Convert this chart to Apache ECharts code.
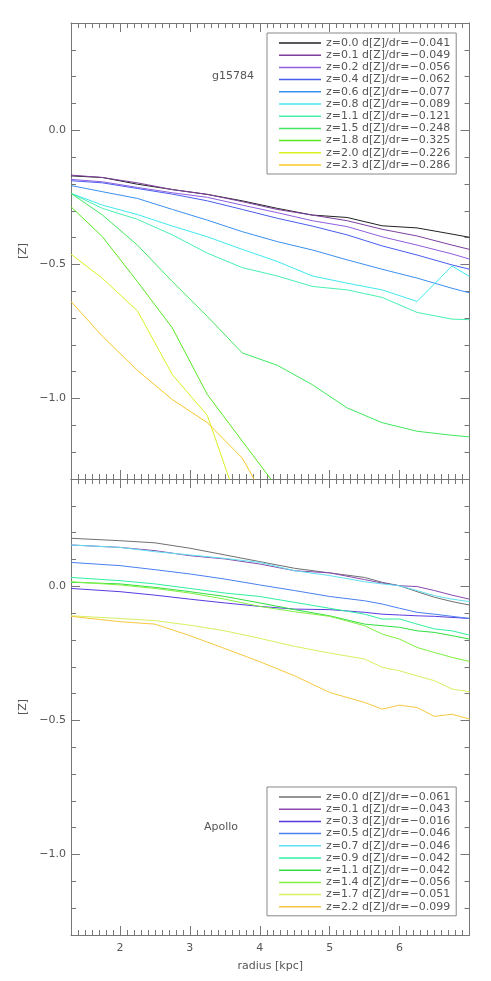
<!DOCTYPE html>
<html>
<head>
<meta charset="utf-8">
<script src="https://cdn.jsdelivr.net/npm/echarts@6/dist/echarts.min.js"></script>
<style>
  html, body { margin: 0; padding: 0; background: #fff; }
  #chart { width: 491px; height: 981px; }
</style>
</head>
<body>
<div id="chart"></div>
<script>
// radius sample points (kpc)
const topRadius = [1.3, 1.75, 2.25, 2.75, 3.25, 3.75, 4.25, 4.75, 5.25, 5.75, 6.25, 6.75, 7.0];
const botRadius = [1.3, 2.0, 2.5, 3.0, 3.5, 4.0, 4.5, 5.0, 5.5, 5.75, 6.0, 6.25, 6.5, 6.75, 7.0];

// g15784 panel
const topRedshift = ['0.0', '0.1', '0.2', '0.4', '0.6', '0.8', '1.1', '1.5', '1.8', '2.0', '2.3'];
const topSlope = ['0.041', '0.049', '0.056', '0.062', '0.077', '0.089', '0.121', '0.248', '0.325', '0.226', '0.286'];
const topZ00 = [-0.170, -0.176, -0.201, -0.221, -0.239, -0.263, -0.291, -0.316, -0.325, -0.356, -0.364, -0.387, -0.399];
const topZ01 = [-0.167, -0.176, -0.196, -0.221, -0.239, -0.266, -0.295, -0.316, -0.337, -0.369, -0.394, -0.428, -0.444];
const topZ02 = [-0.183, -0.192, -0.213, -0.233, -0.250, -0.279, -0.307, -0.337, -0.359, -0.397, -0.428, -0.461, -0.480];
const topZ04 = [-0.188, -0.196, -0.217, -0.238, -0.263, -0.295, -0.328, -0.357, -0.390, -0.431, -0.465, -0.502, -0.518];
const topZ06 = [-0.206, -0.229, -0.254, -0.295, -0.335, -0.378, -0.415, -0.446, -0.483, -0.518, -0.551, -0.589, -0.606];
const topZ08 = [-0.235, -0.279, -0.314, -0.357, -0.397, -0.444, -0.489, -0.543, -0.570, -0.595, -0.638, -0.506, -0.545];
const topZ11 = [-0.235, -0.291, -0.332, -0.390, -0.458, -0.512, -0.543, -0.582, -0.595, -0.623, -0.679, -0.704, -0.706];
const topZ15 = [-0.235, -0.316, -0.428, -0.564, -0.694, -0.830, -0.876, -0.948, -1.035, -1.090, -1.122, -1.137, -1.143];
const topZ18 = [-0.285, -0.397, -0.564, -0.737, -0.985, -1.159, -1.332];
const topZ20 = [-0.462, -0.552, -0.673, -0.911, -1.063, -1.440];
const topZ23 = [-0.638, -0.768, -0.895, -1.004, -1.090, -1.222, -1.455];
const topValues = [topZ00, topZ01, topZ02, topZ04, topZ06, topZ08, topZ11, topZ15, topZ18, topZ20, topZ23];
const topColors = ['#222222', '#7e3f9e', '#8f5fe0', '#4a5cf0', '#3a90f0', '#40e8f0', '#48f0b0', '#40e860', '#58e820', '#d8f020', '#f8c828'];

// Apollo panel
const botRedshift = ['0.0', '0.1', '0.3', '0.5', '0.7', '0.9', '1.1', '1.4', '1.7', '2.2'];
const botSlope = ['0.061', '0.043', '0.016', '0.046', '0.046', '0.042', '0.042', '0.056', '0.051', '0.099'];
const botZ00 = [0.179, 0.170, 0.162, 0.142, 0.117, 0.092, 0.067, 0.050, 0.033, 0.015, 0.002, -0.020, -0.041, -0.057, -0.070];
const botZ01 = [0.154, 0.145, 0.133, 0.114, 0.102, 0.083, 0.058, 0.050, 0.025, 0.012, 0.002, -0.001, -0.016, -0.033, -0.048];
const botZ03 = [-0.008, -0.020, -0.033, -0.048, -0.062, -0.075, -0.085, -0.087, -0.097, -0.104, -0.107, -0.110, -0.112, -0.116, -0.120];
const botZ05 = [0.089, 0.077, 0.062, 0.046, 0.027, 0.005, -0.016, -0.038, -0.054, -0.066, -0.082, -0.097, -0.104, -0.112, -0.120];
const botZ07 = [0.154, 0.145, 0.129, 0.117, 0.104, 0.089, 0.058, 0.040, 0.017, 0.009, 0.002, -0.016, -0.035, -0.048, -0.057];
const botZ09 = [0.033, 0.021, 0.009, -0.008, -0.025, -0.038, -0.060, -0.082, -0.104, -0.122, -0.122, -0.141, -0.159, -0.166, -0.182];
const botZ11 = [0.015, 0.009, -0.004, -0.020, -0.038, -0.062, -0.087, -0.110, -0.141, -0.147, -0.153, -0.166, -0.172, -0.184, -0.197];
const botZ14 = [0.017, 0.005, -0.008, -0.025, -0.048, -0.075, -0.095, -0.112, -0.147, -0.178, -0.197, -0.228, -0.247, -0.265, -0.280];
const botZ17 = [-0.110, -0.120, -0.128, -0.145, -0.166, -0.194, -0.224, -0.249, -0.271, -0.302, -0.315, -0.334, -0.352, -0.383, -0.393];
const botZ22 = [-0.112, -0.132, -0.141, -0.184, -0.232, -0.281, -0.334, -0.396, -0.433, -0.458, -0.443, -0.452, -0.485, -0.477, -0.495];
const botValues = [botZ00, botZ01, botZ03, botZ05, botZ07, botZ09, botZ11, botZ14, botZ17, botZ22];
const botColors = ['#707070', '#8a4ab0', '#5a3ae0', '#4a80f0', '#60e0f0', '#30f0a0', '#30e040', '#80f040', '#d8f060', '#f8c840'];

// tick labels
const xLabels = [2, 3, 4, 5, 6];
const yLabels = [-1.0, -0.5, 0.0];

const xMinor = [];
for (let i = 14; i <= 69; i++) xMinor.push(i / 10);
const yMinor = [];
for (let i = -12; i <= 3; i++) yMinor.push(i / 10);

const axisColor = '#777';
const textColor = '#555';
const font = 'DejaVu Sans';

function label(z, s) {
  return 'z=' + z + ' d[Z]/dr=\u2212' + s;
}

function xAxes(g, showLabel) {
  const base = { type: 'value', gridIndex: g, min: 1.3, max: 7.0, splitLine: { show: false } };
  return [
    Object.assign({}, base, {
      position: 'bottom',
      axisLine: { show: true, onZero: false, lineStyle: { color: axisColor } },
      axisTick: { show: true, inside: true, length: 5, customValues: xMinor, lineStyle: { color: axisColor } },
      axisLabel: { show: showLabel, customValues: xLabels, color: textColor, fontFamily: font, fontSize: 11, margin: 8 },
      name: showLabel ? 'radius [kpc]' : '',
      nameLocation: 'middle', nameGap: 26,
      nameTextStyle: { color: textColor, fontFamily: font, fontSize: 11 }
    }),
    Object.assign({}, base, {
      position: 'bottom',
      axisLine: { show: false, onZero: false },
      axisTick: { show: true, inside: true, length: 9, customValues: xLabels, lineStyle: { color: axisColor } },
      axisLabel: { show: false }
    }),
    Object.assign({}, base, {
      position: 'top',
      axisLine: { show: true, onZero: false, lineStyle: { color: axisColor } },
      axisTick: { show: true, inside: true, length: 5, customValues: xMinor, lineStyle: { color: axisColor } },
      axisLabel: { show: false }
    }),
    Object.assign({}, base, {
      position: 'top',
      axisLine: { show: false, onZero: false },
      axisTick: { show: true, inside: true, length: 9, customValues: xLabels, lineStyle: { color: axisColor } },
      axisLabel: { show: false }
    })
  ];
}

function yAxes(g) {
  const base = { type: 'value', gridIndex: g, min: -1.3, max: 0.4, splitLine: { show: false } };
  return [
    Object.assign({}, base, {
      position: 'left',
      axisLine: { show: true, onZero: false, lineStyle: { color: axisColor } },
      axisTick: { show: true, inside: true, length: 5, customValues: yMinor, lineStyle: { color: axisColor } },
      axisLabel: {
        show: true, customValues: yLabels, color: textColor, fontFamily: font, fontSize: 11, margin: 5,
        formatter: v => (v < 0 ? '\u2212' : '') + Math.abs(v).toFixed(1)
      },
      name: '[Z]', nameLocation: 'middle', nameGap: 38,
      nameTextStyle: { color: textColor, fontFamily: font, fontSize: 11 }
    }),
    Object.assign({}, base, {
      position: 'left',
      axisLine: { show: false, onZero: false },
      axisTick: { show: true, inside: true, length: 9, customValues: yLabels, lineStyle: { color: axisColor } },
      axisLabel: { show: false }
    }),
    Object.assign({}, base, {
      position: 'right',
      axisLine: { show: true, onZero: false, lineStyle: { color: axisColor } },
      axisTick: { show: true, inside: true, length: 5, customValues: yMinor, lineStyle: { color: axisColor } },
      axisLabel: { show: false }
    }),
    Object.assign({}, base, {
      position: 'right',
      axisLine: { show: false, onZero: false },
      axisTick: { show: true, inside: true, length: 9, customValues: yLabels, lineStyle: { color: axisColor } },
      axisLabel: { show: false }
    })
  ];
}

function makeSeries(radius, values, names, colors, axisIdx) {
  return values.map((vals, i) => ({
    name: names[i],
    type: 'line',
    xAxisIndex: axisIdx,
    yAxisIndex: axisIdx,
    showSymbol: false,
    symbol: 'none',
    clip: true,
    silent: true,
    color: colors[i],
    lineStyle: { width: 1, color: colors[i] },
    data: vals.map((v, j) => [radius[j], v])
  }));
}

const topNames = topRedshift.map((z, i) => label(z, topSlope[i]));
const botNames = botRedshift.map((z, i) => label(z, botSlope[i]));

function legend(names, top) {
  return {
    data: names,
    orient: 'vertical',
    left: 267,
    top: top,
    padding: [4, 6, 3, 12],
    backgroundColor: '#fff',
    borderColor: '#888',
    borderWidth: 1,
    icon: 'rect',
    itemWidth: 42,
    itemHeight: 1.5,
    itemGap: 0.2,
    selectedMode: false,
    textStyle: { color: textColor, fontFamily: font, fontSize: 11, lineHeight: 12 }
  };
}

const chart = echarts.init(document.getElementById('chart'));
chart.setOption({
  animation: false,
  backgroundColor: '#fff',
  title: [
    { text: 'g15784', left: 212, top: 71, padding: 0, textStyle: { color: textColor, fontFamily: font, fontSize: 11, fontWeight: 'normal' } },
    { text: 'Apollo', left: 204, top: 822, padding: 0, textStyle: { color: textColor, fontFamily: font, fontSize: 11, fontWeight: 'normal' } }
  ],
  grid: [
    { left: 71, top: 23, width: 398.5, height: 456, outerBoundsMode: 'none' },
    { left: 71, top: 479, width: 398.5, height: 456, outerBoundsMode: 'none' }
  ],
  xAxis: xAxes(0, false).concat(xAxes(1, true)),
  yAxis: yAxes(0).concat(yAxes(1)),
  legend: [legend(topNames, 33), legend(botNames, 787)],
  series: makeSeries(topRadius, topValues, topNames, topColors, 0)
    .concat(makeSeries(botRadius, botValues, botNames, botColors, 4))
});
</script>
</body>
</html>
